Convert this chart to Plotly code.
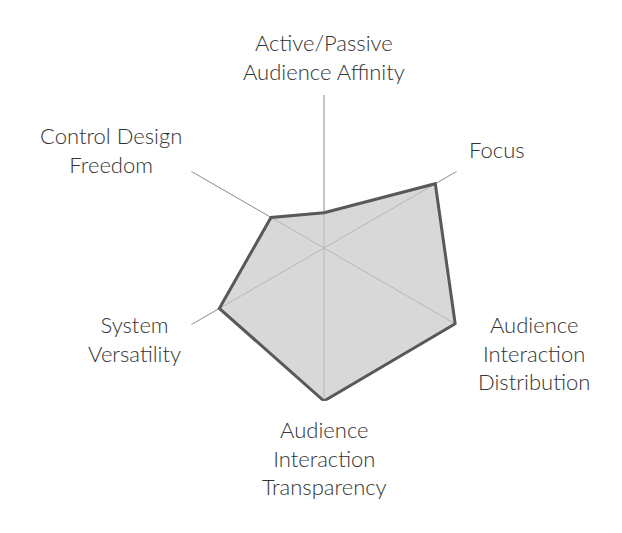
import plotly.graph_objects as go

categories = [
    "Active/Passive Audience Affinity",
    "Focus",
    "Audience Interaction Distribution",
    "Audience Interaction Transparency",
    "System Versatility",
    "Control Design Freedom",
]
label_text = [
    "Active/Passive<br>Audience Affinity",
    "Focus",
    "Audience<br>Interaction<br>Distribution",
    "Audience<br>Interaction<br>Transparency",
    "System<br>Versatility",
    "Control Design<br>Freedom",
]
values = [0.23, 0.84, 0.99, 1.0, 0.79, 0.40]

W, H = 622, 533
cx, cy, R = 324, 248, 153

# label block centre offsets from chart centre (pixels) – layout only
label_offsets = [(0, -191), (173, -98), (210, 105), (0, 210), (-190, 91), (-213, -98)]

theta = categories + [categories[0]]
r = values + [values[0]]

fig = go.Figure()
fig.add_trace(go.Scatterpolar(
    r=r, theta=theta, mode="lines", fill="toself",
    fillcolor="rgba(200,200,200,0.7)",
    line=dict(color="#595959", width=3),
    hoverinfo="skip", showlegend=False,
))

annotations = []
for txt, (dx, dy) in zip(label_text, label_offsets):
    annotations.append(dict(
        text=txt, xref="paper", yref="paper",
        x=(cx + dx) / W, y=1 - (cy + dy) / H,
        xanchor="center", yanchor="middle", align="center",
        showarrow=False,
        font=dict(family="Lato", size=22, color="#333333", weight=300),
    ))

fig.update_layout(
    width=W, height=H,
    margin=dict(l=0, r=0, t=0, b=0),
    paper_bgcolor="white",
    font=dict(family="Lato", size=19, color="#404040"),
    annotations=annotations,
    polar=dict(
        domain=dict(x=[(cx - R) / W, (cx + R) / W], y=[1 - (cy + R) / H, 1 - (cy - R) / H]),
        bgcolor="white",
        radialaxis=dict(range=[0, 1], visible=False, showgrid=False),
        angularaxis=dict(
            direction="clockwise", rotation=90,
            showline=False, showgrid=True, gridcolor="#8a8a8a", gridwidth=1,
            showticklabels=False, ticks="",
            categoryorder="array", categoryarray=categories,
        ),
    ),
)

fig.write_html("out.html")
